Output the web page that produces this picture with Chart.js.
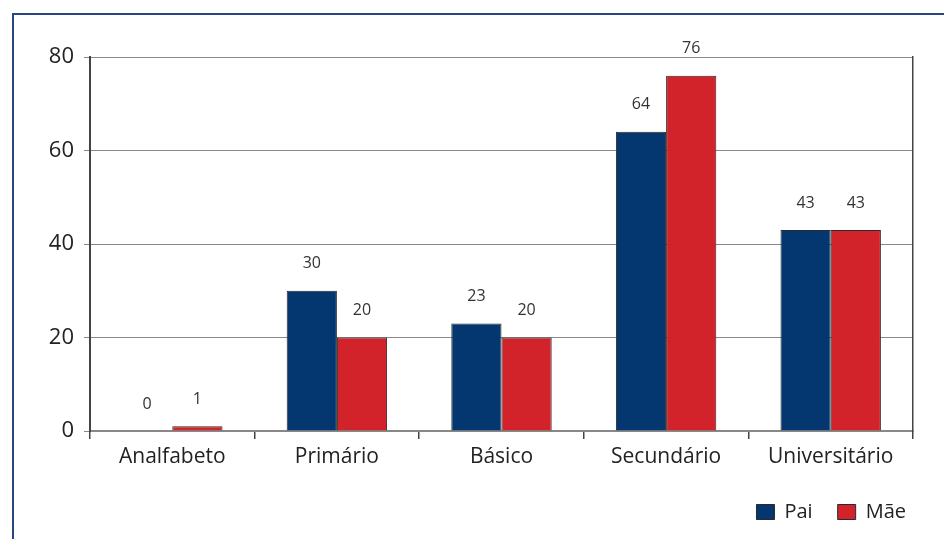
<!DOCTYPE html>
<html>
<head>
<meta charset="utf-8">
<script src="https://cdn.jsdelivr.net/npm/chart.js@4"></script>
<style>
  html, body { margin: 0; padding: 0; background: #fff; }
  #wrap { position: relative; width: 944px; height: 539px; overflow: hidden; }
  #frame { position: absolute; left: 12px; top: 13px; width: 1000px; height: 1000px; border: 2px solid #2a4680; box-sizing: border-box; }
  canvas { position: absolute; left: 0; top: 0; }
</style>
</head>
<body>
<div id="wrap">
  <div id="frame"></div>
  <canvas id="chart" width="944" height="539"></canvas>
</div>
<script>
const categories = ['Analfabeto', 'Primário', 'Básico', 'Secundário', 'Universitário'];
const paiValues = [0, 30, 23, 64, 43];
const maeValues = [1, 20, 20, 76, 43];
const yTicks = [0, 20, 40, 60, 80];

const fontFamily = '"Open Sans", Lato, sans-serif';

// value labels above each bar
const valueLabels = {
    id: 'valueLabels',
    afterDatasetsDraw(chart) {
        const ctx = chart.ctx;
        ctx.save();
        ctx.font = '16px ' + fontFamily;
        ctx.fillStyle = '#333';
        ctx.textAlign = 'center';
        ctx.textBaseline = 'middle';
        chart.data.datasets.forEach((ds, i) => {
            chart.getDatasetMeta(i).data.forEach((bar, j) => {
                ctx.fillText(ds.data[j], bar.x, bar.y - 27);
            });
        });
        ctx.restore();
    }
};

new Chart(document.getElementById('chart'), {
    type: 'bar',
    data: {
        labels: categories,
        datasets: [{
            label: 'Pai',
            data: paiValues,
            backgroundColor: '#04366f',
            borderColor: '#2a2a2a',
            borderWidth: 1,
            barPercentage: 1,
            categoryPercentage: 0.61
        }, {
            label: 'Mãe',
            data: maeValues,
            backgroundColor: '#d2232b',
            borderColor: '#2a2a2a',
            borderWidth: 1,
            barPercentage: 1,
            categoryPercentage: 0.61
        }]
    },
    options: {
        responsive: false,
        animation: false,
        layout: { padding: { left: 20, right: 13, top: 57, bottom: 7 } },
        plugins: {
            legend: {
                position: 'bottom',
                align: 'end',
                labels: {
                    boxWidth: 18,
                    boxHeight: 15,
                    padding: 25,
                    color: '#222',
                    font: { family: fontFamily, size: 20 }
                }
            },
            tooltip: { enabled: false }
        },
        scales: {
            x: {
                grid: {
                    offset: true,
                    drawOnChartArea: false,
                    tickLength: 8,
                    color: '#444',
                    lineWidth: 1.5
                },
                border: { color: '#888', width: 1.5 },
                ticks: {
                    color: '#222',
                    padding: 5,
                    font: { family: fontFamily, size: 21 }
                },
                afterFit(scale) { scale.height = 46; }
            },
            y: {
                min: 0,
                max: 80,
                afterBuildTicks(scale) { scale.ticks = yTicks.map(v => ({ value: v })); },
                grid: { color: '#888', lineWidth: 1, tickLength: 6 },
                border: { color: '#444', width: 2 },
                ticks: {
                    color: '#222',
                    padding: 10,
                    font: { family: fontFamily, size: 22 }
                },
                afterFit(scale) { scale.width = 70; }
            },
            // right frame of the plot area
            y2: {
                position: 'right',
                min: 0,
                max: 80,
                grid: { display: false },
                ticks: { display: false },
                border: { color: '#444', width: 1.5 },
                afterFit(scale) { scale.width = 18; }
            }
        }
    },
    plugins: [valueLabels]
});
</script>
</body>
</html>
